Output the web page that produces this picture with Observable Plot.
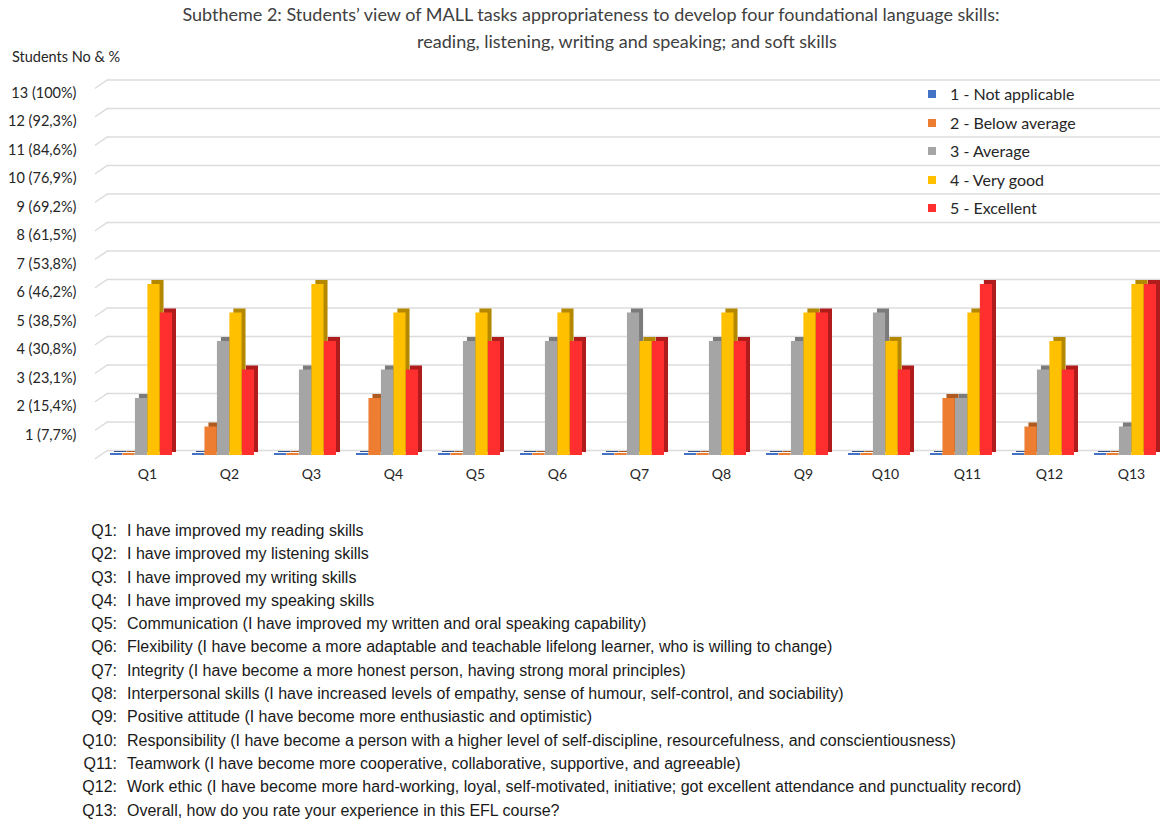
<!DOCTYPE html>
<html>
<head>
<meta charset="utf-8">
<script src="https://cdn.jsdelivr.net/npm/d3@7"></script>
<script src="https://cdn.jsdelivr.net/npm/@observablehq/plot@0.6"></script>
<style>
  html, body { margin: 0; padding: 0; background: #fff; }
  #wrap { position: relative; width: 1167px; height: 823px; overflow: hidden; font-family: Lato, "Noto Sans", sans-serif; color: #404040; }
  #chart { position: absolute; left: 0; top: 0; }
  .title { position: absolute; width: 1000px; text-align: center; font-size: 18px; color: #404040; white-space: nowrap; }
  #ylab { position: absolute; left: 12px; top: 48px; font-size: 14.5px; color: #262626; }
  .li { position: absolute; font-size: 16px; color: #262626; white-space: nowrap; line-height: 18px; }
  .sw { position: absolute; width: 8px; height: 8px; }
  #list { position: absolute; left: 0; top: 519px; font-family: "Liberation Sans", Arial, sans-serif; font-size: 16px; color: #1a1a1a; }
  .row { position: relative; height: 23.3px; line-height: 23.3px; white-space: nowrap; }
  .row .q { position: absolute; left: 50px; width: 67px; text-align: right; }
  .row .t { position: absolute; left: 127px; }
</style>
</head>
<body>
<div id="wrap"></div>
<script>
// ---- data ----
const questions = ["Q1","Q2","Q3","Q4","Q5","Q6","Q7","Q8","Q9","Q10","Q11","Q12","Q13"];
const ratings = ["1 - Not applicable", "2 - Below average", "3 - Average", "4 - Very good", "5 - Excellent"];
const notApplicable = [0,0,0,0,0,0,0,0,0,0,0,0,0];
const belowAverage  = [0,1,0,2,0,0,0,0,0,0,2,1,0];
const average       = [2,4,3,3,4,4,5,4,4,5,2,3,1];
const veryGood      = [6,5,6,5,5,5,4,5,5,4,5,4,6];
const excellent     = [5,3,4,3,4,4,4,4,5,3,6,3,6];
const yTickValues = [1,2,3,4,5,6,7,8,9,10,11,12,13];
const yTickLabels = ["1 (7,7%)","2 (15,4%)","3 (23,1%)","4 (30,8%)","5 (38,5%)","6 (46,2%)","7 (53,8%)","8 (61,5%)","9 (69,2%)","10 (76,9%)","11 (84,6%)","12 (92,3%)","13 (100%)"];
const descriptions = [
  "I have improved my reading skills",
  "I have improved my listening skills",
  "I have improved my writing skills",
  "I have improved my speaking skills",
  "Communication (I have improved my written and oral speaking capability)",
  "Flexibility (I have become a more adaptable and teachable lifelong learner, who is willing to change)",
  "Integrity (I have become a more honest person, having strong moral principles)",
  "Interpersonal skills (I have increased levels of empathy, sense of humour, self-control, and sociability)",
  "Positive attitude (I have become more enthusiastic and optimistic)",
  "Responsibility (I have become a person with a higher level of self-discipline, resourcefulness, and conscientiousness)",
  "Teamwork (I have become more cooperative, collaborative, supportive, and agreeable)",
  "Work ethic (I have become more hard-working, loyal, self-motivated, initiative; got excellent attendance and punctuality record)",
  "Overall, how do you rate your experience in this EFL course?"
];
const titleLine1 = "Subtheme 2: Students\u2019 view of MALL tasks appropriateness to develop four foundational language skills:";
const titleLine2 = "reading, listening, writing and speaking; and soft skills";
const yTitle = "Students No & %";

// ---- styles ----
const frontColors = ["#4472C4", "#ED7D31", "#A5A5A5", "#FFC000", "#FF2F2F"];
const sideColors  = ["#2F528F", "#AE5A21", "#7B7B7B", "#B48800", "#B01C1C"];

const series = [notApplicable, belowAverage, average, veryGood, excellent];
const rows = [];
series.forEach((vals, ri) => vals.forEach((v, qi) => rows.push({q: questions[qi], rating: ratings[ri], ri, v})));

const W = 1167, H = 500, ML = 100, MR = 1;
const step = (W - ML - MR) / questions.length;
const bw = step * 0.76;
const sub = bw / 5;

const marks = [
  Plot.ruleY([0, ...yTickValues], {y: d => d, stroke: "#dcdcdc", strokeWidth: 1.5, dy: -5, insetLeft: 7, insetRight: 6}),
  Plot.vector([0, ...yTickValues], {y: d => d, frameAnchor: "left", dx: -5, dy: 3, length: 14.4, rotate: 56, anchor: "start",
    stroke: "#dcdcdc", strokeWidth: 1.5,
    shape: {draw(ctx, l) { ctx.moveTo(0, 0); ctx.lineTo(0, -l); }}})
];
ratings.forEach((r, i) => {
  const d = rows.filter(o => o.ri === i);
  const ins = {insetLeft: i * sub, insetRight: (4 - i) * sub};
  marks.push(Plot.barY(d, {x: "q", y1: 0, y2: "v", fill: sideColors[i], dx: 4, dy: -3, insetTop: -1, ...ins}));
  marks.push(Plot.barY(d, {x: "q", y1: 0, y2: 0, fill: frontColors[i], insetTop: -2, ...ins}));
  marks.push(Plot.barY(d, {x: "q", y1: 0, y2: "v", fill: frontColors[i], ...ins}));
});
marks.push(Plot.text(questions, {x: d => d, frameAnchor: "bottom", dy: 23, dx: 6, text: d => d, fontSize: 14, fill: "#262626"}));
marks.push(Plot.text(yTickValues, {y: d => d, frameAnchor: "left", dx: -24, dy: 8, textAnchor: "end",
  text: (d, i) => yTickLabels[i], fontSize: 14.5, fill: "#262626"}));

const chart = Plot.plot({
  width: W, height: H,
  marginLeft: ML, marginRight: MR, marginTop: 84.5, marginBottom: 45,
  style: {fontFamily: "Lato, 'Noto Sans', sans-serif", background: "transparent", overflow: "visible"},
  x: {domain: questions, paddingInner: 0.24, paddingOuter: 0.12, axis: null},
  y: {domain: [0, 13], axis: null},
  marks
});
chart.id = "chart";

const wrap = document.getElementById("wrap");
wrap.appendChild(chart);

const t1 = document.createElement("div");
t1.className = "title"; t1.textContent = titleLine1;
t1.style.left = (591 - 500) + "px"; t1.style.top = "3px";
wrap.appendChild(t1);
const t2 = document.createElement("div");
t2.className = "title"; t2.textContent = titleLine2;
t2.style.left = (627 - 500) + "px"; t2.style.top = "30px";
wrap.appendChild(t2);

const yl = document.createElement("div");
yl.id = "ylab"; yl.textContent = yTitle; wrap.appendChild(yl);

ratings.forEach((r, i) => {
  const cy = 94 + i * 28.5;
  const sw = document.createElement("div");
  sw.className = "sw"; sw.style.background = frontColors[i];
  sw.style.left = "928px"; sw.style.top = (cy - 4) + "px";
  wrap.appendChild(sw);
  const tx = document.createElement("div");
  tx.className = "li"; tx.textContent = r;
  tx.style.left = "950px"; tx.style.top = (cy - 9) + "px";
  wrap.appendChild(tx);
});

const list = document.createElement("div");
list.id = "list";
questions.forEach((q, i) => {
  const row = document.createElement("div");
  row.className = "row";
  const qs = document.createElement("span"); qs.className = "q"; qs.textContent = q + ":";
  const ts = document.createElement("span"); ts.className = "t"; ts.textContent = descriptions[i];
  row.appendChild(qs); row.appendChild(ts);
  list.appendChild(row);
});
wrap.appendChild(list);
</script>
</body>
</html>
